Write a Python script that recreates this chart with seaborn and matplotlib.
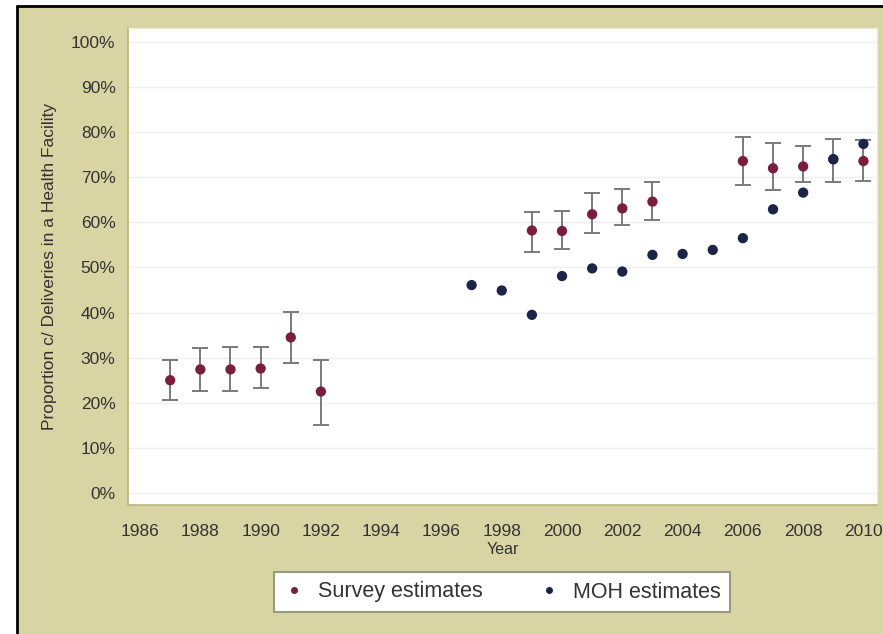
import matplotlib
matplotlib.use("Agg")
import matplotlib.pyplot as plt
import seaborn as sns
import pandas as pd
from matplotlib.lines import Line2D
from matplotlib.patches import Rectangle

# ---- data ----
survey_years = [1987, 1988, 1989, 1990, 1991, 1992, 1999, 2000, 2001, 2002, 2003, 2006, 2007, 2008, 2009, 2010]
survey_vals = [25.0, 27.4, 27.4, 27.6, 34.5, 22.5, 58.2, 58.1, 61.8, 63.1, 64.6, 73.6, 72.0, 72.4, 74.0, 73.6]
survey_lo = [20.6, 22.7, 22.7, 23.2, 28.8, 15.1, 53.5, 54.0, 57.6, 59.4, 60.5, 68.4, 67.2, 68.9, 69.0, 69.2]
survey_hi = [29.5, 32.1, 32.4, 32.4, 40.2, 29.6, 62.4, 62.6, 66.5, 67.4, 69.0, 79.0, 77.5, 77.0, 78.6, 78.3]

moh_years = [1997, 1998, 1999, 2000, 2001, 2002, 2003, 2004, 2005, 2006, 2007, 2008, 2009, 2010]
moh_vals = [46.1, 44.9, 39.5, 48.1, 49.8, 49.1, 52.8, 53.0, 53.9, 56.5, 62.9, 66.6, 74.0, 77.4]

series_names = ["Survey estimates", "MOH estimates"]
y_ticks = list(range(0, 101, 10))
x_ticks = list(range(1986, 2011, 2))

df = pd.concat([
    pd.DataFrame({"Year": survey_years, "Value": survey_vals, "Series": series_names[0]}),
    pd.DataFrame({"Year": moh_years, "Value": moh_vals, "Series": series_names[1]}),
], ignore_index=True)

KHAKI = "#d9d4a3"
SURVEY_C = "#7b1e3c"
MOH_C = "#1c2447"

sns.set_style("white")
plt.rcParams["font.family"] = ["Liberation Sans", "DejaVu Sans"]

fig = plt.figure(figsize=(8.83, 6.34), dpi=100, facecolor="white")
W, H = 883, 634
bg = Rectangle((17 / W, 0), 1 - 17 / W, 1 - 6 / H, transform=fig.transFigure,
               facecolor=KHAKI, edgecolor="none", zorder=-10)
fig.add_artist(bg)
fig.add_artist(Line2D([17 / W, 17 / W], [0, 1 - 6 / H], transform=fig.transFigure, color="black", lw=2, zorder=-5))
fig.add_artist(Line2D([17 / W, 1], [1 - 6 / H, 1 - 6 / H], transform=fig.transFigure, color="black", lw=2, zorder=-5))

ax = fig.add_axes([128 / W, 1 - 505 / H, (877 - 128) / W, (505 - 28) / H])
ax.set_zorder(1)
ax.set_facecolor("white")

# error bars for survey estimates
yerr = [[v - l for v, l in zip(survey_vals, survey_lo)], [h - v for v, h in zip(survey_vals, survey_hi)]]
ax.errorbar(survey_years, survey_vals, yerr=yerr, fmt="none", ecolor="#7a7a7a",
            elinewidth=1.4, capsize=6, capthick=1.4, zorder=2)

sns.scatterplot(data=df, x="Year", y="Value", hue="Series",
                palette={series_names[0]: SURVEY_C, series_names[1]: MOH_C},
                s=55, edgecolor="none", ax=ax, zorder=3, legend=True)

ax.set_xlim(1985.6, 2010.45)
ax.set_ylim(-2.66, 103.1)
ax.set_yticks(y_ticks)
ax.set_yticklabels([f"{t}%" for t in y_ticks])
ax.set_xticks(x_ticks)
ax.set_xticklabels([str(t) for t in x_ticks])

ax.grid(axis="y", color="#efefef", lw=1)
ax.grid(axis="x", visible=False)
for side in ["top", "right"]:
    ax.spines[side].set_color("#eeeecc")
for side in ["left", "bottom"]:
    ax.spines[side].set_color("#b9b47f")
    ax.spines[side].set_linewidth(1.2)

ax.tick_params(axis="both", which="major", direction="out", length=5, width=1,
               color="#555555", labelsize=12.5, labelcolor="#333333", pad=4)
ax.tick_params(axis="x", pad=9)

ax.set_xlabel("Year", fontsize=11.5, color="#333333", labelpad=2)
ax.set_ylabel("Proportion c/ Deliveries in a Health Facility", fontsize=12.5, color="#333333", labelpad=10)

ax.get_legend().remove()
handles = [Line2D([], [], marker="o", ls="none", color=SURVEY_C, markersize=4),
           Line2D([], [], marker="o", ls="none", color=MOH_C, markersize=4)]
leg = fig.legend(handles, series_names, loc="center", bbox_to_anchor=(502 / W, 1 - 592 / H),
                 ncol=2, fontsize=15.5, frameon=True, fancybox=False, edgecolor="#9a9a80",
                 framealpha=1, facecolor="white",
                 handletextpad=0.6, columnspacing=2.6, borderpad=0.45, handlelength=1.0)
leg.get_frame().set_linewidth(1.5)
for t in leg.get_texts():
    t.set_color("#333333")

fig.savefig("out.png", dpi=100, facecolor=fig.get_facecolor())
